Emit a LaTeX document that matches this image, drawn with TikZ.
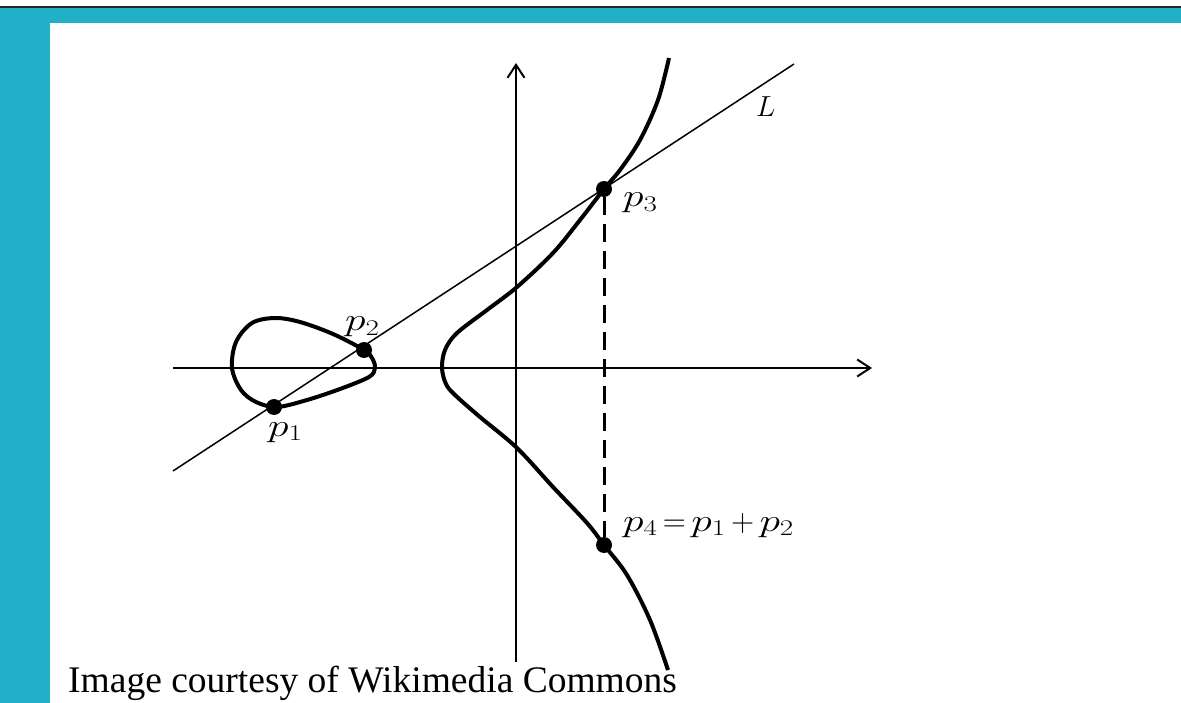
\RequirePackage{fix-cm}
\documentclass[tikz,border=0pt]{standalone}
\usepackage{graphicx}
\usepackage{fontspec}
\newfontfamily\capfont{Liberation Serif}
\usetikzlibrary{arrows.meta}
\definecolor{bandcol}{RGB}{34,175,200}
\newcommand{\wid}[1]{\scalebox{1.3}[1]{#1}}
\begin{document}
\begin{tikzpicture}[x=1pt,y=-1pt,
  axis/.style={line width=2pt,-{Straight Barb[length=13pt,width=17pt,line width=2pt]}},
  curve/.style={line width=4pt,line join=round},
  lline/.style={line width=1.5pt},
  dashline/.style={line width=3pt,dash pattern=on 18pt off 9pt},
  dot/.style={circle,fill=black,inner sep=0pt,minimum size=16pt},
  lab/.style={anchor=base west,inner sep=0pt,font=\fontsize{32}{38}\selectfont},
  llab/.style={anchor=base west,inner sep=0pt,font=\fontsize{29}{35}\selectfont},
  captext/.style={anchor=base west,inner sep=0pt,font=\capfont\fontsize{37.5}{45}\selectfont}]
\useasboundingbox (0,0) rectangle (1181,703);
\fill[bandcol] (0,8) rectangle (1181,23);
\fill[bandcol] (0,8) rectangle (50,703);
\draw[line width=2pt,black!85] (0,7) -- (1181,7);
% axes
\coordinate (xs) at (173,368);
\coordinate (xe) at (872,368);
\coordinate (ys) at (516,662);
\coordinate (ye) at (516,63);
\draw[axis] (xs) -- (xe);
\draw[axis] (ys) -- (ye);
% curve: right branch
\draw[curve] plot[smooth,tension=0.55] coordinates {(669,58) (658,100) (640,140) (620,170) (604,189) (580,220) (553,253) (517,287) (487,310) (457,333) (445,350) (442,368) (446,384) (455,395) (480,417) (517,448) (553,487) (587,523) (604,545) (627,575) (650,620) (668,670)};
% curve: loop
\draw[curve] plot[smooth cycle,tension=0.55] coordinates {(232,368) (236,342) (252,323) (275,318) (300,322) (333,334) (364,350) (372,358) (375,368) (369,377) (340,389) (307,400) (277,407) (256,402) (241,390)};
% line L
\coordinate (Ls) at (173,471);
\coordinate (Le) at (794,64);
\draw[lline] (Ls) -- (Le);
% points
\node[dot] (p1) at (274,407) {};
\node[dot] (p2) at (364,350) {};
\node[dot] (p3) at (604,189) {};
\node[dot] (p4) at (604,545) {};
\draw[dashline] (p3) -- (p4);
% labels
\node[lab] (l1) at (268,436) {\wid{$p_1$}};
\node[lab] (l2) at (345,331) {\wid{$p_2$}};
\node[lab] (l3) at (623,207) {\wid{$p_3$}};
\node[lab] (l4) at (623,531) {\wid{$p_4$}\,$=$\,\wid{$p_1$}\,$+$\,\wid{$p_2$}};
\node[llab] (lL) at (756,117) {$L$};
\node[captext] (caption) at (68,692) {Image courtesy of Wikimedia Commons};
\end{tikzpicture}
\end{document}
